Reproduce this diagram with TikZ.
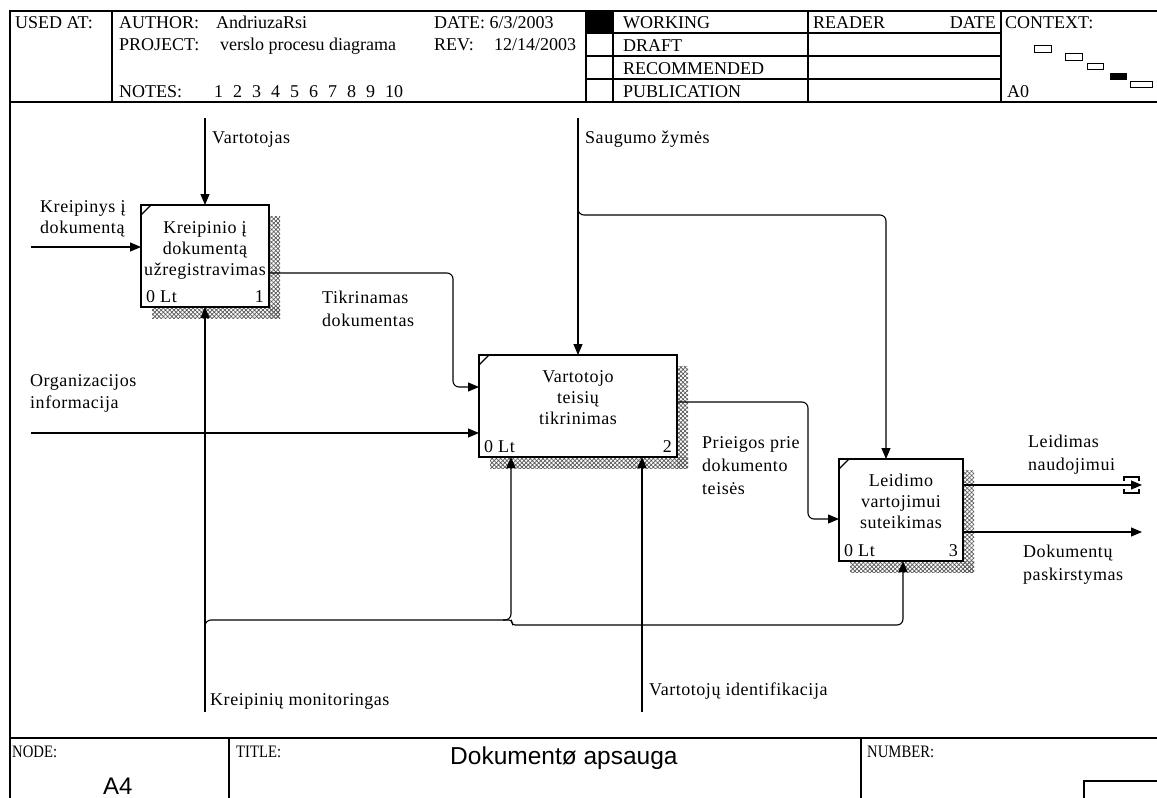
\documentclass[tikz,border=0pt]{standalone}
\usepackage{graphicx}
\usepackage{fontspec}
\setmainfont{Liberation Serif}
\newfontfamily\lblfont[LetterSpace=3]{Liberation Serif}
\newfontfamily\titlefont{Liberation Sans}
\usetikzlibrary{arrows.meta,patterns.meta}

\begin{document}
\begin{tikzpicture}[x=1pt,y=-1pt,
  frame/.style={line width=1.4pt},
  proc/.style={draw,line width=2.4pt,fill=white,inner sep=0pt,outer sep=0pt,minimum height=102pt},
  flow/.style={line width=1.1pt,rounded corners=6pt,-{Triangle[length=11pt,width=9pt]}},
  link/.style={line width=1.1pt},
  hdr/.style={font=\fontsize{18}{21}\selectfont,inner sep=0pt,anchor=base west},
  ftr/.style={font=\fontsize{17.5}{20}\selectfont,inner sep=0pt,anchor=base west},
  lbl/.style={font=\lblfont\fontsize{18}{21}\selectfont,inner sep=0pt,anchor=base west},
  boxtxt/.style={lbl,anchor=base},
  shade/.style={pattern={Hatch[angle=45,distance=3pt,line width=0.7pt]},pattern color=black!65},
  ctx/.style={line width=1pt},
]
\useasboundingbox (0,0) rectangle (1157,798);
\fill[white] (0,0) rectangle (1157,798);

% ---------- sheet frame ----------
\draw[frame] (1157,11) -- (10,11) -- (10,798);
\draw[frame] (10,102) -- (1157,102);
\draw[frame] (10,738) -- (1157,738);

% ---------- header ----------
\foreach \x in {112,586,613,808,1001} \draw[frame] (\x,11) -- (\x,102);
\foreach \y in {33,56,79} \draw[frame] (586,\y) -- (1001,\y);
\fill (586,11) rectangle (613,33);

\node[hdr] (usedat) at (15,28) {USED AT:};
\node[hdr] (author) at (119,28) {AUTHOR:};
\node[hdr] (authorv) at (216,28) {AndriuzaRsi};
\node[hdr] (project) at (119,50) {PROJECT:};
\node[hdr] (projectv) at (220,50) {verslo procesu diagrama};
\node[hdr] (notes) at (119,97) {NOTES:};
\node[hdr] (notesv) at (214,97) {1\hskip10pt 2\hskip10pt 3\hskip10pt 4\hskip10pt 5\hskip10pt 6\hskip10pt 7\hskip10pt 8\hskip10pt 9\hskip10pt 10};
\node[hdr] (date) at (434,28) {DATE: 6/3/2003};
\node[hdr] (rev) at (434,50) {REV:};
\node[hdr] (revv) at (494,50) {12/14/2003};
\node[hdr] (working) at (623,28) {WORKING};
\node[hdr] (draft) at (623,51) {DRAFT};
\node[hdr] (recom) at (623,74) {RECOMMENDED};
\node[hdr] (publ) at (623,97) {PUBLICATION};
\node[hdr] (reader) at (813,28) {READER};
\node[hdr,anchor=base east] (rdate) at (996,28) {DATE};
\node[hdr] (context) at (1005,28) {CONTEXT:};
\node[hdr] (azero) at (1007,97) {A0};

% context map
\draw[ctx] (1034,45) rectangle (1051,52);
\draw[ctx] (1065,53) rectangle (1082,60);
\draw[ctx] (1087,63) rectangle (1103,69);
\filldraw[ctx] (1110,73) rectangle (1126,79);
\draw[ctx] (1130,81) rectangle (1152,87);

% ---------- footer ----------
\draw[frame] (229,738) -- (229,798);
\draw[frame] (861,738) -- (861,798);
\draw[frame] (1084,798) -- (1084,781) -- (1157,781);
\node[ftr] (nodelbl) at (12,757) {\scalebox{0.84}[1]{NODE:}};
\node[ftr] (titlelbl) at (236,757) {\scalebox{0.84}[1]{TITLE:}};
\node[ftr] (numberlbl) at (867,757) {\scalebox{0.84}[1]{NUMBER:}};
\node[font=\titlefont\fontsize{24.5}{28}\selectfont,inner sep=0pt,anchor=base west] (titlev) at (450,764) {Dokumentø apsauga};
\node[font=\titlefont\fontsize{24}{28}\selectfont,inner sep=0pt,anchor=base west] (nodev) at (103,794) {A4};

% ---------- activity boxes ----------
\coordinate (c1) at (205,256);
\coordinate (c2) at (578,406);
\coordinate (c3) at (901,510);

% shadows (drawn first, under connectors and boxes)
\foreach \c/\w in {c1/128,c2/198,c3/124} {
  \fill[shade] ([xshift=\w/2*1pt,yshift=40pt]\c) rectangle ([xshift=\w/2*1pt+11pt,yshift=-62pt]\c);
  \fill[shade] ([xshift=-\w/2*1pt+11pt,yshift=-51pt]\c) rectangle ([xshift=\w/2*1pt+11pt,yshift=-62pt]\c);
}

\node[proc,minimum width=128pt] (b1) at (c1) {};
\node[proc,minimum width=198pt] (b2) at (c2) {};
\node[proc,minimum width=124pt] (b3) at (c3) {};

% ---------- connectors ----------
% control: Vartotojas
\coordinate (vtop) at (205,118);
\draw[flow] (vtop) -- (b1.north);
% input: Kreipinys i dokumenta
\coordinate (kin) at (31,247);
\draw[flow] (kin) -- (kin -| b1.west);
% 1 -> 2: Tikrinamas dokumentas
\coordinate (tk1) at (453,273);
\coordinate (tk2) at (453,387);
\draw[flow] (b1.east |- tk1) -- (tk1) -- (tk2) -- (b2.west |- tk2);
% input: Organizacijos informacija
\coordinate (oin) at (31,433);
\draw[flow] (oin) -- (oin -| b2.west);
% control: Saugumo zymes, with branch to box 3
\coordinate (stop) at (578,118);
\draw[flow] (stop) -- (b2.north);
\coordinate (sg1) at (578,205);
\coordinate (sg2) at (886,215);
\draw[flow] (sg1) |- (sg2) -- (sg2 |- b3.north);
% 2 -> 3: Prieigos prie dokumento teises
\coordinate (pr1) at (808,402);
\coordinate (pr2) at (808,519);
\draw[flow] (b2.east |- pr1) -- (pr1) -- (pr2) -- (b3.west |- pr2);
% outputs of box 3
\coordinate (lout) at (1142,485);
\draw[flow] (b3.east |- lout) -- (lout);
\draw[link] (1124,481) -- (1124,477) -- (1139,477) -- (1139,481);
\draw[link] (1124,489) -- (1124,493) -- (1139,493) -- (1139,489);
\coordinate (dout) at (1142,532);
\draw[flow] (b3.east |- dout) -- (dout);
% mechanism: Kreipiniu monitoringas, branching to boxes 2 and 3
\coordinate (kmb) at (205,712);
\draw[flow] (kmb) -- (b1.south);
\coordinate (km1) at (205,630);
\coordinate (km2) at (511,620);
\draw[flow] (km1) |- (km2) -- (km2 |- b2.south);
\coordinate (km3) at (503,620);
\coordinate (km4) at (512,625);
\coordinate (km5) at (903,625);
\draw[flow,rounded corners=3pt] (km3) -| (km4) [rounded corners=6pt] -| (b3.south -| km5);
% mechanism: Vartotoju identifikacija
\coordinate (vib) at (642,712);
\draw[flow] (vib) -- (vib |- b2.south);

% corner ticks
\foreach \b in {b1,b2,b3}
  \draw[line width=1.2pt] ([yshift=-10pt]\b.north west) -- ([xshift=10pt]\b.north west);

% ---------- box texts ----------
\node[boxtxt] (b1l1) at ([yshift=-28pt]b1.north) {Kreipinio į};
\node[boxtxt] (b1l2) at ([yshift=-49pt]b1.north) {dokumentą};
\node[boxtxt] (b1l3) at ([yshift=-70pt]b1.north) {užregistravimas};
\node[lbl] (b1c) at ([xshift=5pt,yshift=5pt]b1.south west) {0 Lt};
\node[lbl,anchor=base east] (b1n) at ([xshift=-5pt,yshift=5pt]b1.south east) {1};

\node[boxtxt] (b2l1) at ([yshift=-27pt]b2.north) {Vartotojo};
\node[boxtxt] (b2l2) at ([yshift=-48pt]b2.north) {teisių};
\node[boxtxt] (b2l3) at ([yshift=-69pt]b2.north) {tikrinimas};
\node[lbl] (b2c) at ([xshift=5pt,yshift=5pt]b2.south west) {0 Lt};
\node[lbl,anchor=base east] (b2n) at ([xshift=-5pt,yshift=5pt]b2.south east) {2};

\node[boxtxt] (b3l1) at ([yshift=-27pt]b3.north) {Leidimo};
\node[boxtxt] (b3l2) at ([yshift=-48pt]b3.north) {vartojimui};
\node[boxtxt] (b3l3) at ([yshift=-69pt]b3.north) {suteikimas};
\node[lbl] (b3c) at ([xshift=5pt,yshift=5pt]b3.south west) {0 Lt};
\node[lbl,anchor=base east] (b3n) at ([xshift=-5pt,yshift=5pt]b3.south east) {3};

% ---------- arrow labels ----------
\node[lbl] (lvart) at (212,143) {Vartotojas};
\node[lbl] (lkr1) at (40,212) {Kreipinys į};
\node[lbl] (lkr2) at (40,233) {dokumentą};
\node[lbl] (ltk1) at (322,303) {Tikrinamas};
\node[lbl] (ltk2) at (322,326) {dokumentas};
\node[lbl] (lor1) at (30,386) {Organizacijos};
\node[lbl] (lor2) at (30,408) {informacija};
\node[lbl] (lsg) at (585,143) {Saugumo žymės};
\node[lbl] (lpr1) at (702,448) {Prieigos prie};
\node[lbl] (lpr2) at (702,471) {dokumento};
\node[lbl] (lpr3) at (702,494) {teisės};
\node[lbl] (lld1) at (1028,447) {Leidimas};
\node[lbl] (lld2) at (1028,470) {naudojimui};
\node[lbl] (ldk1) at (1023,557) {Dokumentų};
\node[lbl] (ldk2) at (1023,580) {paskirstymas};
\node[lbl] (lkm) at (210,705) {Kreipinių monitoringas};
\node[lbl] (lvi) at (649,695) {Vartotojų identifikacija};
\end{tikzpicture}
\end{document}
